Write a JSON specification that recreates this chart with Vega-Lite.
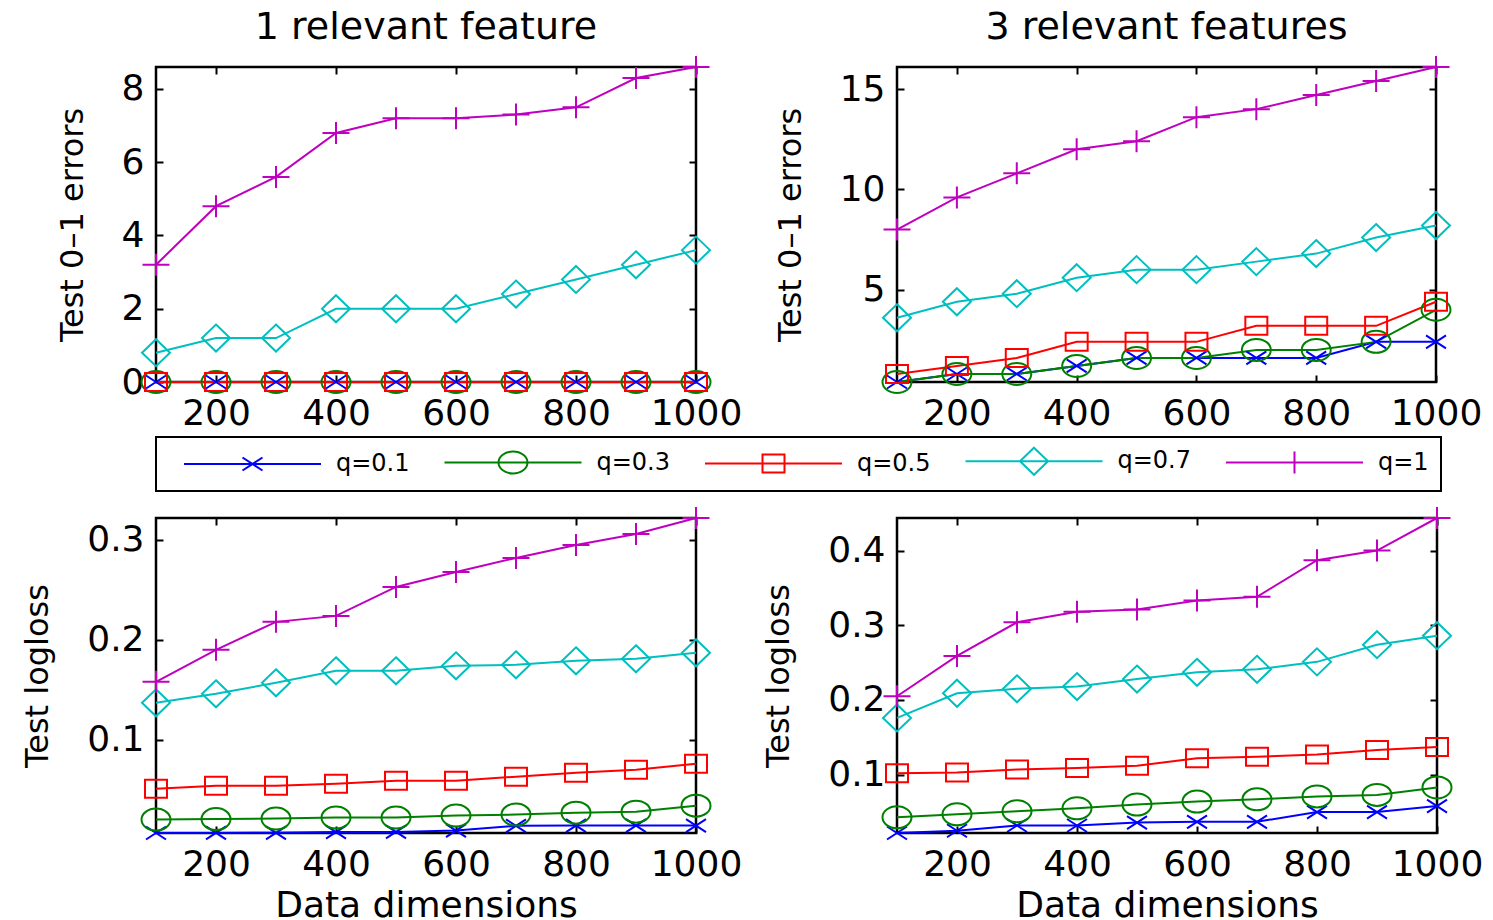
{
  "$schema": "https://vega.github.io/schema/vega-lite/v6.json",
  "padding": {"left": 20, "top": 7, "right": 5, "bottom": 0},
  "background": "white",
  "config": {
    "view": {"stroke": "black", "strokeWidth": 2.5},
    "font": "DejaVu Sans",
    "axis": {"grid": false, "domain": false, "tickColor": "black", "tickWidth": 2, "tickSize": -7, "labelColor": "black", "labelFont": "DejaVu Sans", "labelFontSize": 36, "titleFont": "DejaVu Sans", "titleFontWeight": "normal", "titleColor": "black"},
    "axisX": {"titleFontSize": 36, "titlePadding": 6, "labelPadding": 21, "labelFlush": false, "labelOverlap": false, "format": "d"},
    "axisY": {"titleFontSize": 32, "titlePadding": 32, "labelPadding": 19},
    "title": {"font": "DejaVu Sans", "fontSize": 38, "fontWeight": "normal", "color": "black", "anchor": "middle", "frame": "group", "offset": 5}
  },
  "datasets": {
    "tl": [
      {"d":100,"q":"q=0.1","v":0},{"d":200,"q":"q=0.1","v":0},{"d":300,"q":"q=0.1","v":0},{"d":400,"q":"q=0.1","v":0},{"d":500,"q":"q=0.1","v":0},{"d":600,"q":"q=0.1","v":0},{"d":700,"q":"q=0.1","v":0},{"d":800,"q":"q=0.1","v":0},{"d":900,"q":"q=0.1","v":0},{"d":1000,"q":"q=0.1","v":0},
      {"d":100,"q":"q=0.3","v":0},{"d":200,"q":"q=0.3","v":0},{"d":300,"q":"q=0.3","v":0},{"d":400,"q":"q=0.3","v":0},{"d":500,"q":"q=0.3","v":0},{"d":600,"q":"q=0.3","v":0},{"d":700,"q":"q=0.3","v":0},{"d":800,"q":"q=0.3","v":0},{"d":900,"q":"q=0.3","v":0},{"d":1000,"q":"q=0.3","v":0},
      {"d":100,"q":"q=0.5","v":0},{"d":200,"q":"q=0.5","v":0},{"d":300,"q":"q=0.5","v":0},{"d":400,"q":"q=0.5","v":0},{"d":500,"q":"q=0.5","v":0},{"d":600,"q":"q=0.5","v":0},{"d":700,"q":"q=0.5","v":0},{"d":800,"q":"q=0.5","v":0},{"d":900,"q":"q=0.5","v":0},{"d":1000,"q":"q=0.5","v":0},
      {"d":100,"q":"q=0.7","v":0.8},{"d":200,"q":"q=0.7","v":1.2},{"d":300,"q":"q=0.7","v":1.2},{"d":400,"q":"q=0.7","v":2.0},{"d":500,"q":"q=0.7","v":2.0},{"d":600,"q":"q=0.7","v":2.0},{"d":700,"q":"q=0.7","v":2.4},{"d":800,"q":"q=0.7","v":2.8},{"d":900,"q":"q=0.7","v":3.2},{"d":1000,"q":"q=0.7","v":3.6},
      {"d":100,"q":"q=1","v":3.2},{"d":200,"q":"q=1","v":4.8},{"d":300,"q":"q=1","v":5.6},{"d":400,"q":"q=1","v":6.8},{"d":500,"q":"q=1","v":7.2},{"d":600,"q":"q=1","v":7.2},{"d":700,"q":"q=1","v":7.3},{"d":800,"q":"q=1","v":7.5},{"d":900,"q":"q=1","v":8.3},{"d":1000,"q":"q=1","v":8.6}
    ],
    "tr": [
      {"d":100,"q":"q=0.1","v":0.4},{"d":200,"q":"q=0.1","v":0.8},{"d":300,"q":"q=0.1","v":0.8},{"d":400,"q":"q=0.1","v":1.2},{"d":500,"q":"q=0.1","v":1.6},{"d":600,"q":"q=0.1","v":1.6},{"d":700,"q":"q=0.1","v":1.6},{"d":800,"q":"q=0.1","v":1.6},{"d":900,"q":"q=0.1","v":2.4},{"d":1000,"q":"q=0.1","v":2.4},
      {"d":100,"q":"q=0.3","v":0.4},{"d":200,"q":"q=0.3","v":0.8},{"d":300,"q":"q=0.3","v":0.8},{"d":400,"q":"q=0.3","v":1.2},{"d":500,"q":"q=0.3","v":1.6},{"d":600,"q":"q=0.3","v":1.6},{"d":700,"q":"q=0.3","v":2.0},{"d":800,"q":"q=0.3","v":2.0},{"d":900,"q":"q=0.3","v":2.4},{"d":1000,"q":"q=0.3","v":4.0},
      {"d":100,"q":"q=0.5","v":0.8},{"d":200,"q":"q=0.5","v":1.2},{"d":300,"q":"q=0.5","v":1.6},{"d":400,"q":"q=0.5","v":2.4},{"d":500,"q":"q=0.5","v":2.4},{"d":600,"q":"q=0.5","v":2.4},{"d":700,"q":"q=0.5","v":3.2},{"d":800,"q":"q=0.5","v":3.2},{"d":900,"q":"q=0.5","v":3.2},{"d":1000,"q":"q=0.5","v":4.4},
      {"d":100,"q":"q=0.7","v":3.6},{"d":200,"q":"q=0.7","v":4.4},{"d":300,"q":"q=0.7","v":4.8},{"d":400,"q":"q=0.7","v":5.6},{"d":500,"q":"q=0.7","v":6.0},{"d":600,"q":"q=0.7","v":6.0},{"d":700,"q":"q=0.7","v":6.4},{"d":800,"q":"q=0.7","v":6.8},{"d":900,"q":"q=0.7","v":7.6},{"d":1000,"q":"q=0.7","v":8.2},
      {"d":100,"q":"q=1","v":8.0},{"d":200,"q":"q=1","v":9.6},{"d":300,"q":"q=1","v":10.8},{"d":400,"q":"q=1","v":12.0},{"d":500,"q":"q=1","v":12.4},{"d":600,"q":"q=1","v":13.6},{"d":700,"q":"q=1","v":14.0},{"d":800,"q":"q=1","v":14.7},{"d":900,"q":"q=1","v":15.4},{"d":1000,"q":"q=1","v":16.1}
    ],
    "bl": [
      {"d":100,"q":"q=0.1","v":0.0066},{"d":200,"q":"q=0.1","v":0.0067},{"d":300,"q":"q=0.1","v":0.0068},{"d":400,"q":"q=0.1","v":0.0075},{"d":500,"q":"q=0.1","v":0.0077},{"d":600,"q":"q=0.1","v":0.009},{"d":700,"q":"q=0.1","v":0.0138},{"d":800,"q":"q=0.1","v":0.014},{"d":900,"q":"q=0.1","v":0.014},{"d":1000,"q":"q=0.1","v":0.014},
      {"d":100,"q":"q=0.3","v":0.020},{"d":200,"q":"q=0.3","v":0.0205},{"d":300,"q":"q=0.3","v":0.021},{"d":400,"q":"q=0.3","v":0.022},{"d":500,"q":"q=0.3","v":0.022},{"d":600,"q":"q=0.3","v":0.024},{"d":700,"q":"q=0.3","v":0.025},{"d":800,"q":"q=0.3","v":0.027},{"d":900,"q":"q=0.3","v":0.028},{"d":1000,"q":"q=0.3","v":0.034},
      {"d":100,"q":"q=0.5","v":0.051},{"d":200,"q":"q=0.5","v":0.054},{"d":300,"q":"q=0.5","v":0.054},{"d":400,"q":"q=0.5","v":0.056},{"d":500,"q":"q=0.5","v":0.059},{"d":600,"q":"q=0.5","v":0.059},{"d":700,"q":"q=0.5","v":0.063},{"d":800,"q":"q=0.5","v":0.067},{"d":900,"q":"q=0.5","v":0.070},{"d":1000,"q":"q=0.5","v":0.076},
      {"d":100,"q":"q=0.7","v":0.137},{"d":200,"q":"q=0.7","v":0.146},{"d":300,"q":"q=0.7","v":0.157},{"d":400,"q":"q=0.7","v":0.169},{"d":500,"q":"q=0.7","v":0.169},{"d":600,"q":"q=0.7","v":0.174},{"d":700,"q":"q=0.7","v":0.175},{"d":800,"q":"q=0.7","v":0.179},{"d":900,"q":"q=0.7","v":0.181},{"d":1000,"q":"q=0.7","v":0.187},
      {"d":100,"q":"q=1","v":0.158},{"d":200,"q":"q=1","v":0.190},{"d":300,"q":"q=1","v":0.218},{"d":400,"q":"q=1","v":0.224},{"d":500,"q":"q=1","v":0.253},{"d":600,"q":"q=1","v":0.268},{"d":700,"q":"q=1","v":0.282},{"d":800,"q":"q=1","v":0.295},{"d":900,"q":"q=1","v":0.306},{"d":1000,"q":"q=1","v":0.322}
    ],
    "br": [
      {"d":100,"q":"q=0.1","v":0.022},{"d":200,"q":"q=0.1","v":0.025},{"d":300,"q":"q=0.1","v":0.032},{"d":400,"q":"q=0.1","v":0.032},{"d":500,"q":"q=0.1","v":0.036},{"d":600,"q":"q=0.1","v":0.037},{"d":700,"q":"q=0.1","v":0.037},{"d":800,"q":"q=0.1","v":0.050},{"d":900,"q":"q=0.1","v":0.050},{"d":1000,"q":"q=0.1","v":0.058},
      {"d":100,"q":"q=0.3","v":0.043},{"d":200,"q":"q=0.3","v":0.047},{"d":300,"q":"q=0.3","v":0.051},{"d":400,"q":"q=0.3","v":0.055},{"d":500,"q":"q=0.3","v":0.060},{"d":600,"q":"q=0.3","v":0.064},{"d":700,"q":"q=0.3","v":0.067},{"d":800,"q":"q=0.3","v":0.071},{"d":900,"q":"q=0.3","v":0.073},{"d":1000,"q":"q=0.3","v":0.083},
      {"d":100,"q":"q=0.5","v":0.102},{"d":200,"q":"q=0.5","v":0.103},{"d":300,"q":"q=0.5","v":0.107},{"d":400,"q":"q=0.5","v":0.109},{"d":500,"q":"q=0.5","v":0.112},{"d":600,"q":"q=0.5","v":0.122},{"d":700,"q":"q=0.5","v":0.124},{"d":800,"q":"q=0.5","v":0.127},{"d":900,"q":"q=0.5","v":0.133},{"d":1000,"q":"q=0.5","v":0.137},
      {"d":100,"q":"q=0.7","v":0.176},{"d":200,"q":"q=0.7","v":0.209},{"d":300,"q":"q=0.7","v":0.215},{"d":400,"q":"q=0.7","v":0.218},{"d":500,"q":"q=0.7","v":0.228},{"d":600,"q":"q=0.7","v":0.237},{"d":700,"q":"q=0.7","v":0.241},{"d":800,"q":"q=0.7","v":0.251},{"d":900,"q":"q=0.7","v":0.274},{"d":1000,"q":"q=0.7","v":0.286},
      {"d":100,"q":"q=1","v":0.205},{"d":200,"q":"q=1","v":0.259},{"d":300,"q":"q=1","v":0.304},{"d":400,"q":"q=1","v":0.318},{"d":500,"q":"q=1","v":0.321},{"d":600,"q":"q=1","v":0.333},{"d":700,"q":"q=1","v":0.338},{"d":800,"q":"q=1","v":0.387},{"d":900,"q":"q=1","v":0.400},{"d":1000,"q":"q=1","v":0.4435}
    ]
  },
  "columns": 2,
  "spacing": {"row": 136, "column": 201},
  "bounds": "flush",
  "concat": [
    {
      "width": 540, "height": 315,
      "title": {"text": "1 relevant feature"},
      "data": {"name": "tl"},
      "layer": [
        {"mark": {"type": "line", "strokeWidth": 2},
         "encoding": {
           "x": {"field": "d", "type": "quantitative", "scale": {"domain": [100, 1000], "nice": false, "zero": false}, "axis": {"orient": "bottom", "values": [200, 400, 600, 800, 1000], "title": null}},
           "y": {"field": "v", "type": "quantitative", "scale": {"domain": [0, 8.6], "nice": false, "zero": false}, "axis": {"orient": "left", "values": [0, 2, 4, 6, 8], "title": "Test 0–1 errors"}},
           "color": {"field": "q", "type": "nominal", "scale": {"domain": ["q=0.1", "q=0.3", "q=0.5", "q=0.7", "q=1"], "range": ["#0000ff", "#008000", "#ff0000", "#00bfbf", "#bf00bf"]},
             "legend": {"orient": "none", "legendX": 0, "legendY": 370, "direction": "horizontal", "columns": 5, "title": " ", "titleOrient": "left", "titleFontSize": 1, "titlePadding": 16, "padding": 12, "strokeColor": "black", "labelFont": "DejaVu Sans", "labelFontSize": 24, "labelColor": "black", "labelOffset": 128, "columnPadding": 30.5, "symbolSize": 400, "symbolStrokeWidth": 2, "gridAlign": "each",
               "encode": {
                 "legend": {"update": {"strokeWidth": {"value": 2}}},
                 "symbols": {"update": {"fill": {"value": "transparent"}, "strokeWidth": {"value": 2}, "size": {"value": 400},
                   "shape": {"signal": "datum.value === 'q=0.1' ? 'M-1.2,0H12.5M4.65,-0.65L6.65,0.65M4.65,0.65L6.65,-0.65' : datum.value === 'q=0.3' ? 'M-1.2,0H12.5M4.2,0A1.45,1.1 0 1,1 7.1,0A1.45,1.1 0 1,1 4.2,0' : datum.value === 'q=0.5' ? 'M-1.2,0H12.5M4.55,-0.9H6.75V0.9H4.55Z' : datum.value === 'q=0.7' ? 'M-1.2,0H12.5M5.65,-1.35L7.05,0L5.65,1.35L4.25,0Z' : 'M-1.2,0H12.5M4.3,0H7M5.65,-1.1V1.1'"}}}
               }}}
         }},
        {"mark": {"type": "point", "filled": false, "strokeWidth": 2, "opacity": 1, "size": 100},
         "encoding": {
           "x": {"field": "d", "type": "quantitative", "scale": {"domain": [100, 1000], "nice": false, "zero": false}, "axis": {"orient": "top", "values": [200, 400, 600, 800, 1000], "labels": false, "title": null}},
           "y": {"field": "v", "type": "quantitative", "scale": {"domain": [0, 8.6], "nice": false, "zero": false}, "axis": {"orient": "right", "values": [0, 2, 4, 6, 8], "labels": false, "title": null}},
           "color": {"field": "q", "type": "nominal", "scale": {"domain": ["q=0.1", "q=0.3", "q=0.5", "q=0.7", "q=1"], "range": ["#0000ff", "#008000", "#ff0000", "#00bfbf", "#bf00bf"]}},
           "shape": {"field": "q", "type": "nominal", "scale": {"domain": ["q=1", "q=0.7", "q=0.5", "q=0.3", "q=0.1"], "range": ["M-2.7,0H2.7M0,-2.2V2.2", "M0,-2.7L2.8,0L0,2.7L-2.8,0Z", "M-2.2,-1.8H2.2V1.8H-2.2Z", "M-2.9,0A2.9,2.2 0 1,1 2.9,0A2.9,2.2 0 1,1 -2.9,0", "M-2,-1.3L2,1.3M-2,1.3L2,-1.3"]}, "legend": null}
         }}
      ],
      "resolve": {"axis": {"x": "independent", "y": "independent"}}
    },
    {
      "width": 539, "height": 315,
      "title": {"text": "3 relevant features"},
      "data": {"name": "tr"},
      "layer": [
        {"mark": {"type": "line", "strokeWidth": 2},
         "encoding": {
           "x": {"field": "d", "type": "quantitative", "scale": {"domain": [100, 1000], "nice": false, "zero": false}, "axis": {"orient": "bottom", "values": [200, 400, 600, 800, 1000], "title": null}},
           "y": {"field": "v", "type": "quantitative", "scale": {"domain": [0.4, 16.1], "nice": false, "zero": false}, "axis": {"orient": "left", "values": [5, 10, 15], "title": "Test 0–1 errors"}},
           "color": {"field": "q", "type": "nominal", "scale": {"domain": ["q=0.1", "q=0.3", "q=0.5", "q=0.7", "q=1"], "range": ["#0000ff", "#008000", "#ff0000", "#00bfbf", "#bf00bf"]}}
         }},
        {"mark": {"type": "point", "filled": false, "strokeWidth": 2, "opacity": 1, "size": 100},
         "encoding": {
           "x": {"field": "d", "type": "quantitative", "scale": {"domain": [100, 1000], "nice": false, "zero": false}, "axis": {"orient": "top", "values": [200, 400, 600, 800, 1000], "labels": false, "title": null}},
           "y": {"field": "v", "type": "quantitative", "scale": {"domain": [0.4, 16.1], "nice": false, "zero": false}, "axis": {"orient": "right", "values": [5, 10, 15], "labels": false, "title": null}},
           "color": {"field": "q", "type": "nominal", "scale": {"domain": ["q=0.1", "q=0.3", "q=0.5", "q=0.7", "q=1"], "range": ["#0000ff", "#008000", "#ff0000", "#00bfbf", "#bf00bf"]}},
           "shape": {"field": "q", "type": "nominal", "scale": {"domain": ["q=1", "q=0.7", "q=0.5", "q=0.3", "q=0.1"], "range": ["M-2.7,0H2.7M0,-2.2V2.2", "M0,-2.7L2.8,0L0,2.7L-2.8,0Z", "M-2.2,-1.8H2.2V1.8H-2.2Z", "M-2.9,0A2.9,2.2 0 1,1 2.9,0A2.9,2.2 0 1,1 -2.9,0", "M-2,-1.3L2,1.3M-2,1.3L2,-1.3"]}, "legend": null}
         }}
      ],
      "resolve": {"axis": {"x": "independent", "y": "independent"}}
    },
    {
      "width": 540, "height": 315,
      "data": {"name": "bl"},
      "layer": [
        {"mark": {"type": "line", "strokeWidth": 2},
         "encoding": {
           "x": {"field": "d", "type": "quantitative", "scale": {"domain": [100, 1000], "nice": false, "zero": false}, "axis": {"orient": "bottom", "values": [200, 400, 600, 800, 1000], "title": "Data dimensions"}},
           "y": {"field": "v", "type": "quantitative", "scale": {"domain": [0.0066, 0.322], "nice": false, "zero": false}, "axis": {"orient": "left", "values": [0.1, 0.2, 0.3], "format": ".1f", "title": "Test logloss"}},
           "color": {"field": "q", "type": "nominal", "scale": {"domain": ["q=0.1", "q=0.3", "q=0.5", "q=0.7", "q=1"], "range": ["#0000ff", "#008000", "#ff0000", "#00bfbf", "#bf00bf"]}}
         }},
        {"mark": {"type": "point", "filled": false, "strokeWidth": 2, "opacity": 1, "size": 100},
         "encoding": {
           "x": {"field": "d", "type": "quantitative", "scale": {"domain": [100, 1000], "nice": false, "zero": false}, "axis": {"orient": "top", "values": [200, 400, 600, 800, 1000], "labels": false, "title": null}},
           "y": {"field": "v", "type": "quantitative", "scale": {"domain": [0.0066, 0.322], "nice": false, "zero": false}, "axis": {"orient": "right", "values": [0.1, 0.2, 0.3], "labels": false, "title": null}},
           "color": {"field": "q", "type": "nominal", "scale": {"domain": ["q=0.1", "q=0.3", "q=0.5", "q=0.7", "q=1"], "range": ["#0000ff", "#008000", "#ff0000", "#00bfbf", "#bf00bf"]}},
           "shape": {"field": "q", "type": "nominal", "scale": {"domain": ["q=1", "q=0.7", "q=0.5", "q=0.3", "q=0.1"], "range": ["M-2.7,0H2.7M0,-2.2V2.2", "M0,-2.7L2.8,0L0,2.7L-2.8,0Z", "M-2.2,-1.8H2.2V1.8H-2.2Z", "M-2.9,0A2.9,2.2 0 1,1 2.9,0A2.9,2.2 0 1,1 -2.9,0", "M-2,-1.3L2,1.3M-2,1.3L2,-1.3"]}, "legend": null}
         }}
      ],
      "resolve": {"axis": {"x": "independent", "y": "independent"}}
    },
    {
      "width": 540, "height": 315,
      "data": {"name": "br"},
      "layer": [
        {"mark": {"type": "line", "strokeWidth": 2},
         "encoding": {
           "x": {"field": "d", "type": "quantitative", "scale": {"domain": [100, 1000], "nice": false, "zero": false}, "axis": {"orient": "bottom", "values": [200, 400, 600, 800, 1000], "title": "Data dimensions"}},
           "y": {"field": "v", "type": "quantitative", "scale": {"domain": [0.022, 0.4435], "nice": false, "zero": false}, "axis": {"orient": "left", "values": [0.1, 0.2, 0.3, 0.4], "format": ".1f", "title": "Test logloss"}},
           "color": {"field": "q", "type": "nominal", "scale": {"domain": ["q=0.1", "q=0.3", "q=0.5", "q=0.7", "q=1"], "range": ["#0000ff", "#008000", "#ff0000", "#00bfbf", "#bf00bf"]}}
         }},
        {"mark": {"type": "point", "filled": false, "strokeWidth": 2, "opacity": 1, "size": 100},
         "encoding": {
           "x": {"field": "d", "type": "quantitative", "scale": {"domain": [100, 1000], "nice": false, "zero": false}, "axis": {"orient": "top", "values": [200, 400, 600, 800, 1000], "labels": false, "title": null}},
           "y": {"field": "v", "type": "quantitative", "scale": {"domain": [0.022, 0.4435], "nice": false, "zero": false}, "axis": {"orient": "right", "values": [0.1, 0.2, 0.3, 0.4], "labels": false, "title": null}},
           "color": {"field": "q", "type": "nominal", "scale": {"domain": ["q=0.1", "q=0.3", "q=0.5", "q=0.7", "q=1"], "range": ["#0000ff", "#008000", "#ff0000", "#00bfbf", "#bf00bf"]}},
           "shape": {"field": "q", "type": "nominal", "scale": {"domain": ["q=1", "q=0.7", "q=0.5", "q=0.3", "q=0.1"], "range": ["M-2.7,0H2.7M0,-2.2V2.2", "M0,-2.7L2.8,0L0,2.7L-2.8,0Z", "M-2.2,-1.8H2.2V1.8H-2.2Z", "M-2.9,0A2.9,2.2 0 1,1 2.9,0A2.9,2.2 0 1,1 -2.9,0", "M-2,-1.3L2,1.3M-2,1.3L2,-1.3"]}, "legend": null}
         }}
      ],
      "resolve": {"axis": {"x": "independent", "y": "independent"}}
    }
  ]
}
